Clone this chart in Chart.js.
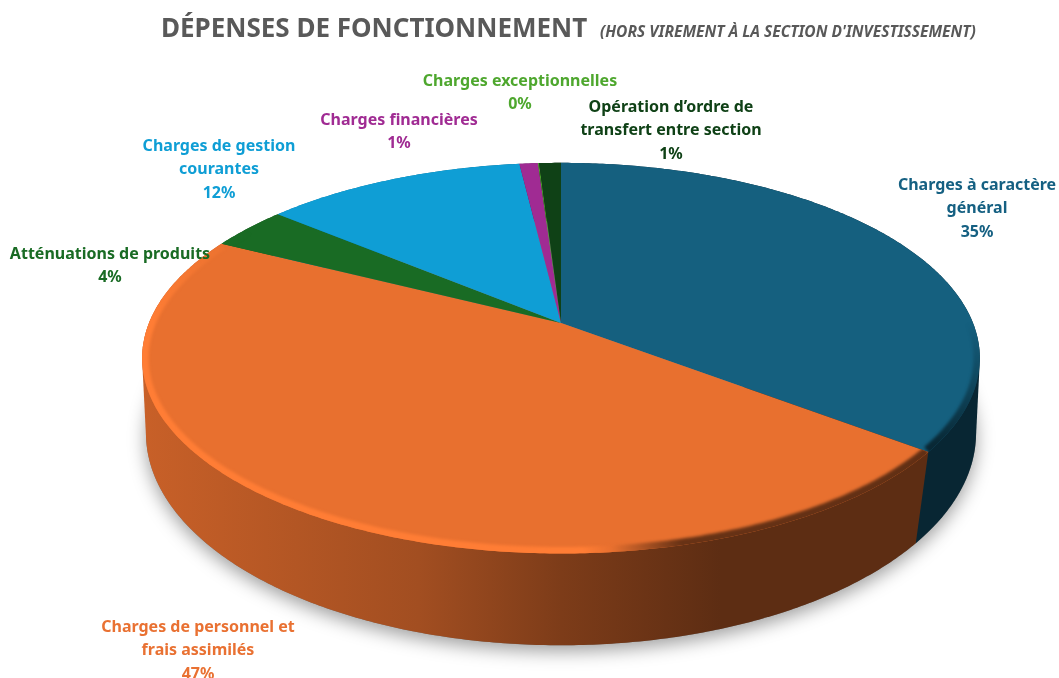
<!DOCTYPE html>
<html lang="fr">
<head>
<meta charset="utf-8">
<title>Dépenses de fonctionnement</title>
<script src="https://cdn.jsdelivr.net/npm/chart.js@4"></script>
<style>
    html, body { margin: 0; background: #fff; }
    canvas { display: block; }
</style>
</head>
<body>
<canvas id="chart" width="1059" height="678"></canvas>
<script>
const categories = [
    "Charges à caractère\ngénéral",
    "Charges de personnel et\nfrais assimilés",
    "Atténuations de produits",
    "Charges de gestion\ncourantes",
    "Charges financières",
    "Charges exceptionnelles",
    "Opération d’ordre de\ntransfert entre section",
];
const values = [35.4, 47.1, 3.6, 12.0, 0.85, 0.05, 1.0];
const colors = ["#15607F", "#E8702F", "#196B24", "#0F9ED5", "#A02B93", "#4EA72E", "#0F4116"];
const labelColors = ["#156082", "#E97132", "#196B24", "#0F9ED5", "#A02B93", "#4EA72E", "#0F4116"];

// centre x / first line y of each label, same order as categories
const labelX = [977, 198, 110, 219, 399, 520, 671];
const labelY = [185, 627, 254, 146, 120, 81, 107];

const mainTitle = "DÉPENSES DE FONCTIONNEMENT";
const subTitle = "(HORS VIREMENT À LA SECTION D'INVESTISSEMENT)";

const FONT = '"Noto Sans", sans-serif';

// the disc is a circle seen in perspective, k is how strong
const topDisc = { x: 561, y: 323, a: 412, b: 189, k: 0.18 };
const baseDisc = { x: 561, y: 405.6, a: 411.5, b: 208.5, k: 0.13 };

function rimPoint(disc, angle) {
    const u = Math.cos(angle);
    const v = Math.sin(angle);
    const w = 1 - disc.k * v;
    return [disc.x + (disc.a * u) / w, disc.y + (disc.b * v) / w];
}

function rimPoints(disc, from, to) {
    const steps = Math.max(2, Math.ceil(Math.abs(to - from) / 0.01));
    const pts = [];
    for (let i = 0; i <= steps; i++) {
        pts.push(rimPoint(disc, from + ((to - from) * i) / steps));
    }
    return pts;
}

function traceRim(ctx, disc, from, to) {
    rimPoints(disc, from, to).forEach(([x, y]) => ctx.lineTo(x, y));
}

function wedgePath(ctx, start, end) {
    ctx.beginPath();
    ctx.moveTo(topDisc.x, topDisc.y);
    traceRim(ctx, topDisc, start, end);
    ctx.closePath();
}

// monotone chain, the wall has to bridge the two rims without a notch
function convexHull(points) {
    const pts = [...points].sort((p, q) => p[0] - q[0] || p[1] - q[1]);
    const cross = (o, a, b) => (a[0] - o[0]) * (b[1] - o[1]) - (a[1] - o[1]) * (b[0] - o[0]);
    const half = (list) => {
        const out = [];
        for (const p of list) {
            while (out.length > 1 && cross(out[out.length - 2], out[out.length - 1], p) <= 0) out.pop();
            out.push(p);
        }
        out.pop();
        return out;
    };
    return [...half(pts), ...half(pts.reverse())];
}

function shade(hex, f, alpha = 1) {
    const n = parseInt(hex.slice(1), 16);
    const c = [(n >> 16) & 255, (n >> 8) & 255, n & 255].map((p) => Math.min(255, Math.round(p * f)));
    return `rgba(${c.join(",")},${alpha})`;
}

function wallGradient(ctx, color) {
    const g = ctx.createLinearGradient(143, 0, 980, 0);
    g.addColorStop(0, shade(color, 0.86));
    g.addColorStop(0.33, shade(color, 0.7));
    g.addColorStop(0.5, shade(color, 0.54));
    g.addColorStop(0.69, shade(color, 0.4));
    g.addColorStop(1, shade(color, 0.4));
    return g;
}

// goes clockwise from the right hand side of the disc
function bevelGradient(ctx, color) {
    const g = ctx.createConicGradient(0, topDisc.x, topDisc.y);
    g.addColorStop(0, shade(color, 0.4, 0));
    g.addColorStop(0.05, shade(color, 0.42));
    g.addColorStop(0.17, shade(color, 0.45));
    g.addColorStop(0.215, shade(color, 1));
    g.addColorStop(0.235, shade(color, 1.12));
    g.addColorStop(0.5, shade(color, 1.12));
    g.addColorStop(0.545, shade(color, 1.12, 0));
    g.addColorStop(1, shade(color, 0.4, 0));
    return g;
}

function drawShadow(ctx) {
    ctx.save();
    ctx.shadowColor = "rgba(0,0,0,0.38)";
    ctx.shadowBlur = 18;
    ctx.shadowOffsetY = 6;
    ctx.fillStyle = "#777";
    ctx.beginPath();
    traceRim(ctx, baseDisc, 0, Math.PI * 2);
    ctx.closePath();
    ctx.fill();
    ctx.restore();
}

function drawWall(ctx, el, color) {
    const hull = convexHull([
        ...rimPoints(topDisc, el.startAngle, el.endAngle),
        ...rimPoints(baseDisc, el.startAngle, el.endAngle),
    ]);
    ctx.fillStyle = wallGradient(ctx, color);
    ctx.beginPath();
    hull.forEach(([x, y]) => ctx.lineTo(x, y));
    ctx.closePath();
    ctx.fill();
}

function drawTop(ctx, el, color) {
    wedgePath(ctx, el.startAngle, el.endAngle);
    ctx.fillStyle = color;
    ctx.fill();

    // soft edge along the front of the disc
    ctx.save();
    wedgePath(ctx, el.startAngle, el.endAngle);
    ctx.clip();
    ctx.filter = "blur(1.6px)";
    ctx.strokeStyle = bevelGradient(ctx, color);
    ctx.lineWidth = 13;
    ctx.beginPath();
    traceRim(ctx, topDisc, el.startAngle, el.endAngle);
    ctx.stroke();
    ctx.restore();
}

function drawLabels(ctx, total) {
    ctx.textAlign = "center";
    ctx.textBaseline = "middle";
    ctx.font = `bold 16px ${FONT}`;
    categories.forEach((name, i) => {
        const pct = Math.round((values[i] / total) * 100) + "%";
        ctx.fillStyle = labelColors[i];
        [...name.split("\n"), pct].forEach((line, j) => {
            ctx.fillText(line, labelX[i], labelY[i] + j * 23.5);
        });
    });
}

function drawTitles(ctx) {
    ctx.textAlign = "left";
    ctx.textBaseline = "alphabetic";
    ctx.fillStyle = "#595959";
    ctx.font = `bold 26px ${FONT}`;
    ctx.fillText(mainTitle, 161, 37);
    ctx.font = `italic bold 15.5px ${FONT}`;
    ctx.fillText(subTitle, 600, 37);
}

const pie3d = {
    id: "pie3d",
    beforeDatasetDraw(chart, args) {
        const ctx = chart.ctx;
        const arcs = args.meta.data;
        const total = values.reduce((a, b) => a + b, 0);
        ctx.save();
        drawShadow(ctx);
        arcs.forEach((el, i) => drawWall(ctx, el, colors[i]));
        arcs.forEach((el, i) => drawTop(ctx, el, colors[i]));
        drawLabels(ctx, total);
        drawTitles(ctx);
        ctx.restore();
        return false;
    },
};

new Chart(document.getElementById("chart"), {
    type: "pie",
    data: {
        labels: categories,
        datasets: [{ data: values, backgroundColor: colors, borderWidth: 0 }],
    },
    options: {
        responsive: false,
        animation: false,
        plugins: { legend: { display: false }, tooltip: { enabled: false } },
    },
    plugins: [pie3d],
});
</script>
</body>
</html>
